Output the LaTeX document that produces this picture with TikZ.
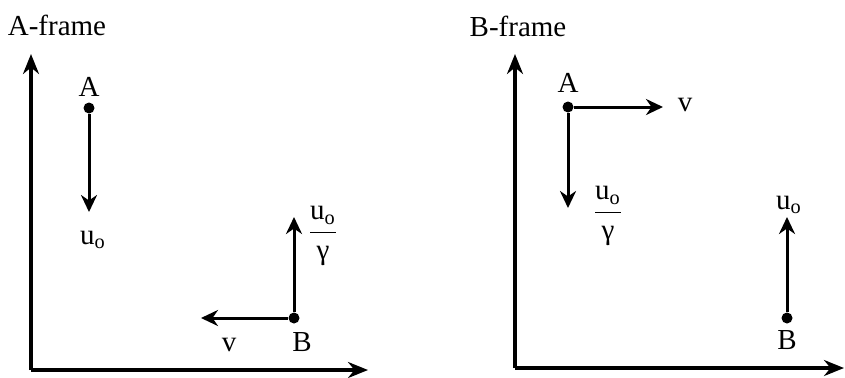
\documentclass[tikz,border=0pt]{standalone}
\usepackage{fontspec}
\setmainfont{Liberation Serif}
\usetikzlibrary{arrows.meta}
\tikzset{
  dot/.style  = {circle, fill=black, inner sep=0pt, minimum size=5.5pt},
  lab/.style  = {font=\fontsize{14.5}{17}\selectfont, inner sep=1pt},
  arr/.style  = {-{Stealth[length=8.5pt,width=8pt]}, draw=black, line width=1.5pt},
  axis/.style = {-{Stealth[length=10pt,width=8pt]}, draw=black, line width=1.6pt},
}
\newcommand{\uo}{u\textsubscript{o}}
\newcommand{\uovg}{$\displaystyle\frac{\mbox{\uo}}{\mbox{γ}}$}
\begin{document}
\begin{tikzpicture}[x=0.5pt, y=-0.5pt]
  \useasboundingbox (0,0) rectangle (845,377);
  % A-frame
  \node[lab] (titleA) at (57,25) {A-frame};
  \coordinate (oA) at (31,370);
  \coordinate (yA) at (31,54);
  \coordinate (xA) at (368,370);
  \draw[axis] (oA) -- (yA); \draw[axis] (oA) -- (xA);
  \node[dot] (pA1) at (89,108) {};
  \node[lab] (lA1) at (89,87) {A};
  \coordinate (vA1) at (89,212);
  \draw[arr] (pA1) -- (vA1);
  \node[lab] (uA1) at (93,240) {\uo};
  \node[dot] (pB1) at (294,318) {};
  \node[lab] (lB1) at (302,342) {B};
  \coordinate (uB1) at (294,217);
  \coordinate (vB1) at (201,318);
  \draw[arr] (pB1) -- (uB1); \draw[arr] (pB1) -- (vB1);
  \node[lab] (fB1) at (323,236) {\uovg};
  \node[lab] (nB1) at (229,345) {v};
  % B-frame
  \node[lab] (titleB) at (518,26) {B-frame};
  \coordinate (oB) at (515,368);
  \coordinate (yB) at (515,54);
  \coordinate (xB) at (844,368);
  \draw[axis] (oB) -- (yB); \draw[axis] (oB) -- (xB);
  \node[dot] (pA2) at (568,107) {};
  \node[lab] (lA2) at (568,83) {A};
  \coordinate (vA2) at (663,107);
  \coordinate (uA2) at (568,208);
  \draw[arr] (pA2) -- (vA2); \draw[arr] (pA2) -- (uA2);
  \node[lab] (nA2) at (685,105) {v};
  \node[lab] (fA2) at (608,216) {\uovg};
  \node[dot] (pB2) at (787,318) {};
  \node[lab] (lB2) at (787,340) {B};
  \coordinate (uB2) at (787,217);
  \draw[arr] (pB2) -- (uB2);
  \node[lab] (uB2l) at (789,205) {\uo};
\end{tikzpicture}
\end{document}
